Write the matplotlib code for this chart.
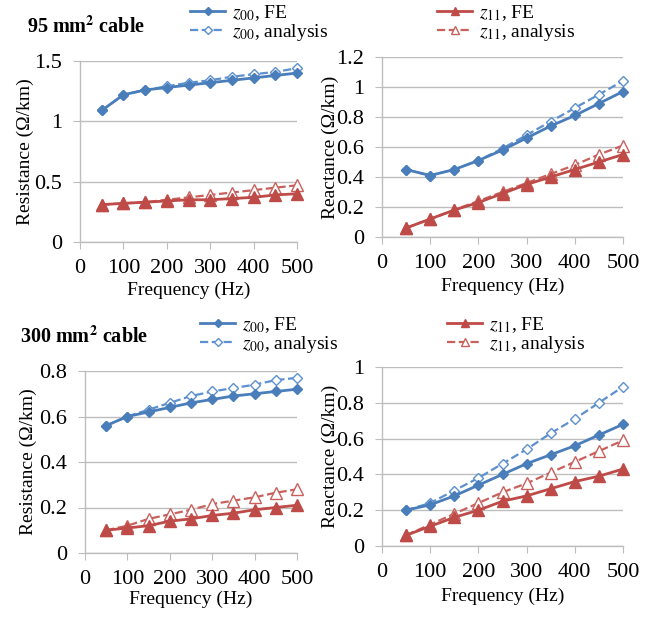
import numpy as np
import matplotlib
matplotlib.use("Agg")
import matplotlib.pyplot as plt

plt.rcParams['font.family'] = ['Liberation Serif', 'DejaVu Serif']
plt.rcParams['mathtext.fontset'] = 'stix'

freq = [50, 100, 150, 200, 250, 300, 350, 400, 450, 500]

# 95 mm2 cable
r95_z00_fe = [1.09, 1.22, 1.26, 1.28, 1.30, 1.32, 1.34, 1.36, 1.38, 1.40]
r95_z00_an = [1.09, 1.22, 1.26, 1.29, 1.32, 1.34, 1.37, 1.39, 1.41, 1.44]
r95_z11_fe = [0.31, 0.32, 0.33, 0.34, 0.35, 0.35, 0.36, 0.37, 0.39, 0.40]
r95_z11_an = [0.31, 0.32, 0.33, 0.35, 0.37, 0.39, 0.41, 0.43, 0.45, 0.47]
x95_z00_fe = [0.45, 0.41, 0.45, 0.51, 0.58, 0.66, 0.74, 0.81, 0.89, 0.97]
x95_z00_an = [0.45, 0.41, 0.45, 0.51, 0.59, 0.68, 0.77, 0.86, 0.95, 1.04]
x95_z11_fe = [0.06, 0.12, 0.18, 0.23, 0.29, 0.35, 0.40, 0.45, 0.50, 0.55]
x95_z11_an = [0.06, 0.12, 0.18, 0.24, 0.30, 0.36, 0.42, 0.48, 0.55, 0.61]

# 300 mm2 cable
r300_z00_fe = [0.56, 0.60, 0.62, 0.64, 0.66, 0.675, 0.69, 0.70, 0.71, 0.72]
r300_z00_an = [0.56, 0.60, 0.63, 0.66, 0.69, 0.71, 0.725, 0.74, 0.76, 0.77]
r300_z11_fe = [0.10, 0.11, 0.12, 0.14, 0.15, 0.165, 0.175, 0.19, 0.20, 0.21]
r300_z11_an = [0.10, 0.12, 0.15, 0.17, 0.19, 0.215, 0.23, 0.245, 0.265, 0.28]
x300_z00_fe = [0.20, 0.23, 0.28, 0.34, 0.40, 0.46, 0.51, 0.56, 0.62, 0.68]
x300_z00_an = [0.20, 0.24, 0.31, 0.38, 0.46, 0.54, 0.63, 0.71, 0.80, 0.89]
x300_z11_fe = [0.06, 0.11, 0.16, 0.20, 0.25, 0.28, 0.32, 0.36, 0.39, 0.43]
x300_z11_an = [0.06, 0.12, 0.18, 0.24, 0.30, 0.35, 0.41, 0.47, 0.53, 0.59]

BLUE = '#4a7ebb'
BLUE_AN = '#5d90cf'
RED = '#be4b48'
RED_AN = '#c8605c'
GRID = '#bdbdbd'
FS = 14
TICK_FS = 16

fig = plt.figure(figsize=(6.56, 6.17), dpi=100)
W, H = 656, 617


def add_axes(l, r, t, b):
    return fig.add_axes([l / W, 1 - b / H, (r - l) / W, (b - t) / H])


def style_axes(ax, ymax, ystep, ylabel, ylab_x, xlab_y):
    ax.set_xlim(0, 500)
    ax.set_ylim(0, ymax)
    ax.set_xticks(np.arange(0, 501, 100))
    ax.set_yticks(np.arange(0, ymax + 1e-9, ystep))
    ax.set_yticklabels(['%g' % v for v in np.arange(0, ymax + 1e-9, ystep).round(2)])
    ax.yaxis.grid(True, color=GRID, linewidth=1)
    ax.set_axisbelow(True)
    for s in ['top', 'right']:
        ax.spines[s].set_visible(False)
    for s in ['left', 'bottom']:
        ax.spines[s].set_color(GRID)
        ax.spines[s].set_linewidth(1)
    ax.tick_params(direction='out', length=5, color=GRID, labelsize=TICK_FS, pad=8)
    ax.tick_params(axis='x', pad=7)
    ax.set_xlabel('Frequency (Hz)', fontsize=FS)
    ax.set_ylabel(ylabel, fontsize=FS)
    # label centres given in pixels away from the axes
    bb = ax.get_position()
    ax.yaxis.set_label_coords(-ylab_x / (bb.width * W), 0.5)
    ax.yaxis.label.set_va('center')
    ax.xaxis.set_label_coords(0.5, -xlab_y / (bb.height * H))
    ax.xaxis.label.set_va('center')


def draw(ax, fe, an, color, color_an, marker, ms, label):
    l1, = ax.plot(freq, fe, '-', color=color, marker=marker, ms=ms, lw=2,
                  mfc=color, mec=color, label=label + ', FE', clip_on=False, zorder=3)
    l2, = ax.plot(freq, an, '--', color=color_an, marker=marker, ms=ms, lw=1.6,
                  mfc='white', mec=color_an, mew=1, label=label + ', analysis',
                  clip_on=False, zorder=2)
    return l1, l2


ax1 = add_axes(80, 297, 61, 242)
ax2 = add_axes(382, 623, 57, 237)
ax3 = add_axes(85, 297, 371, 553)
ax4 = add_axes(382, 623, 367, 546)

z00 = r'$z_{00}$'
z11 = r'$z_{11}$'

# 95 mm2
h00 = draw(ax1, r95_z00_fe, r95_z00_an, BLUE, BLUE_AN, 'D', 5.5, z00)
h11 = draw(ax1, r95_z11_fe, r95_z11_an, RED, RED_AN, '^', 8, z11)
draw(ax2, x95_z00_fe, x95_z00_an, BLUE, BLUE_AN, 'D', 5.5, z00)
draw(ax2, x95_z11_fe, x95_z11_an, RED, RED_AN, '^', 8, z11)
style_axes(ax1, 1.5, 0.5, 'Resistance (Ω/km)', 55, 48)
style_axes(ax2, 1.2, 0.2, 'Reactance (Ω/km)', 52, 49)

# 300 mm2
g00 = draw(ax3, r300_z00_fe, r300_z00_an, BLUE, BLUE_AN, 'D', 5.5, z00)
g11 = draw(ax3, r300_z11_fe, r300_z11_an, RED, RED_AN, '^', 8, z11)
draw(ax4, x300_z00_fe, x300_z00_an, BLUE, BLUE_AN, 'D', 5.5, z00)
draw(ax4, x300_z11_fe, x300_z11_an, RED, RED_AN, '^', 8, z11)
style_axes(ax3, 0.8, 0.2, 'Resistance (Ω/km)', 57, 46)
style_axes(ax4, 1.0, 0.2, 'Reactance (Ω/km)', 52, 50)

leg_kw = dict(frameon=False, fontsize=FS, handlelength=1.8, handletextpad=0.35,
              labelspacing=-0.05, borderpad=0, borderaxespad=0, markerscale=0.7,
              loc='upper left')


def fig_legend(handles, x, y):
    fig.legend(handles=list(handles), bbox_to_anchor=(x / W, 1 - y / H), **leg_kw)


fig_legend(h00, 190, 3)
fig_legend(h11, 437, 3)
fig_legend(g00, 200, 315)
fig_legend(g11, 447, 315)

fig.text(27 / W, 1 - 27 / H, r'95 mm$^\mathbf{2}$ cable', fontsize=14.5, fontweight='bold',
         va='center', ha='left')
fig.text(20 / W, 1 - 337 / H, r'300 mm$^\mathbf{2}$ cable', fontsize=14.5, fontweight='bold',
         va='center', ha='left')

fig.savefig('out.png', dpi=100)
